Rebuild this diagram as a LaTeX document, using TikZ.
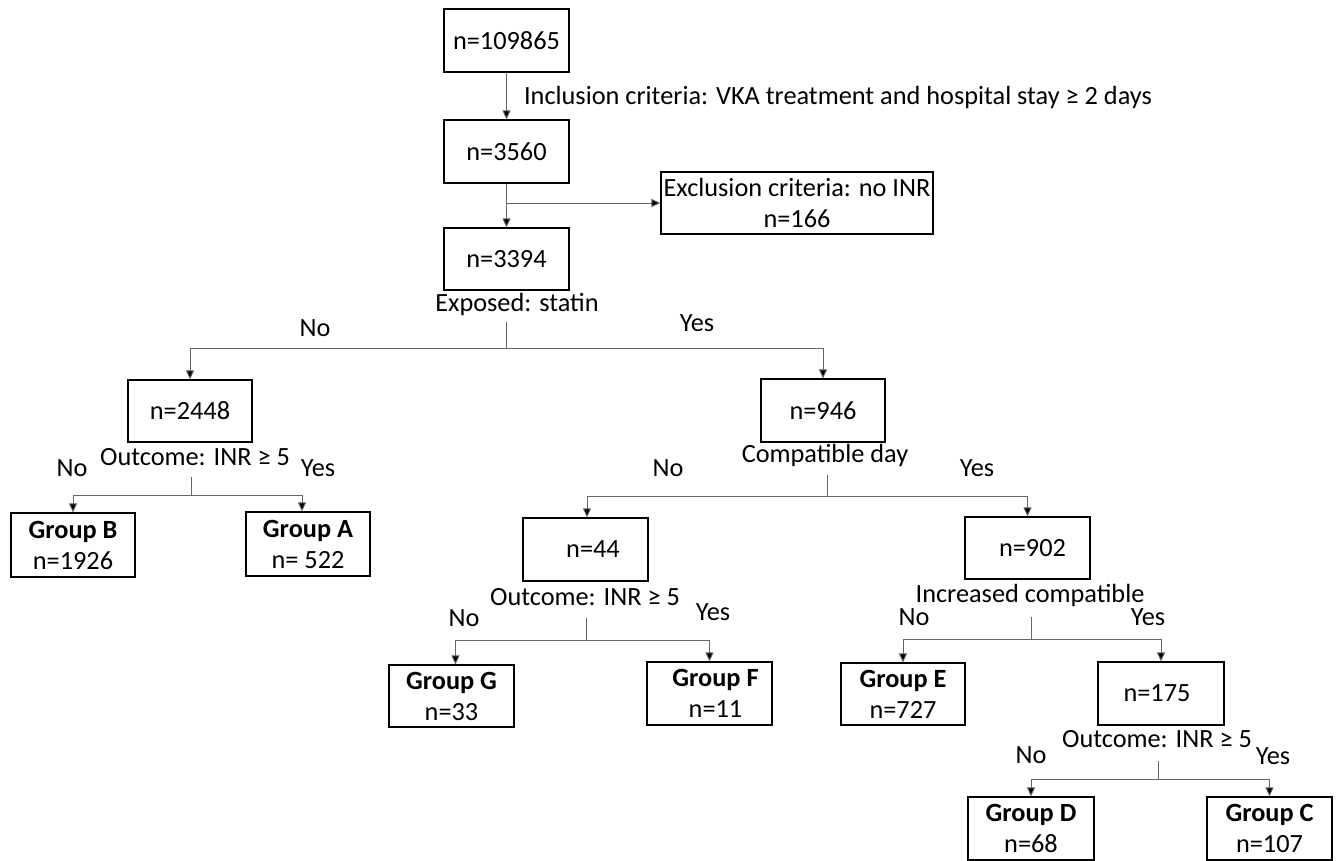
\documentclass[tikz,border=0pt]{standalone}
\usepackage{fontspec}
\setmainfont{Carlito}
\usetikzlibrary{arrows.meta}
\begin{document}
\begin{tikzpicture}[x=1pt,y=-1pt,
 box/.style={draw=black,line width=1.2pt,minimum width=125pt,minimum height=63pt,inner sep=0pt,align=center,font=\fontsize{26.3}{31}\selectfont},
 lbl/.style={inner sep=0pt,font=\fontsize{26.3}{31}\selectfont},
 conn/.style={draw=black!60,line width=0.9pt},
 arr/.style={conn,-{Triangle[length=9pt,width=8pt,fill=black]}}]
\useasboundingbox (0,0) rectangle (1341,861);
% boxes
\node[box] (n0) at (506.5,40.5) {n=109865};
\node[box] (n1) at (506.5,151.5) {n=3560};
\node[box,minimum width=272pt,minimum height=62pt] (ex) at (797,203) {Exclusion criteria: no INR\\n=166};
\node[box,minimum height=62pt] (n2) at (506.5,259) {n=3394};
\node[box,minimum width=124pt,minimum height=62pt] (n3) at (190,411) {n=2448};
\node[box,minimum width=124pt] (n4) at (823,410.5) {n=946};
\node[box,minimum width=124pt,minimum height=64pt] (gB) at (73,545) {\textbf{Group B}\\n=1926};
\node[box,minimum width=124pt,minimum height=64pt] (gA) at (308,544) {\textbf{Group A}\\n= 522};
\node[box] (n5) at (585.5,549.5) {\hspace*{15pt}n=44};
\node[box,minimum height=62pt] (n6) at (1027.5,548) {\hspace*{10pt}n=902};
\node[box,minimum height=62pt] (gG) at (451.5,696) {\textbf{Group G}\\n=33};
\node[box] (gF) at (709.5,693.5) {\hspace*{12pt}\textbf{Group F}\\\hspace*{12pt}n=11};
\node[box,minimum width=124pt,minimum height=62pt] (gE) at (903,694) {\textbf{Group E}\\n=727};
\node[box,minimum width=126pt] (n7) at (1161,693.5) {\hspace*{-8pt}n=175};
\node[box,minimum width=126pt] (gD) at (1031,828.5) {\textbf{Group D}\\n=68};
\node[box] (gC) at (1269.5,828.5) {\textbf{Group C}\\n=107};
% labels
\node[lbl] (tInc) at (838,97) {Inclusion criteria: VKA treatment and hospital stay ≥ 2 days};
\node[lbl] (tExp) at (517,304) {Exposed: statin};
\node[lbl] (tNo1) at (315,328) {No};
\node[lbl] (tYes1) at (697,323) {Yes};
\node[lbl] (tOut1) at (195,457) {Outcome: INR ≥ 5};
\node[lbl] (tNo2) at (72,468) {No};
\node[lbl] (tYes2) at (318,468) {Yes};
\node[lbl] (tComp) at (825,455) {Compatible day};
\node[lbl] (tNo3) at (668,468) {No};
\node[lbl] (tYes3) at (977,468) {Yes};
\node[lbl] (tOut2) at (585,597) {Outcome: INR ≥ 5};
\node[lbl] (tNo4) at (464,618) {No};
\node[lbl] (tYes4) at (713,612) {Yes};
\node[lbl] (tInc2) at (1030,595) {Increased compatible};
\node[lbl] (tNo5) at (914,617) {No};
\node[lbl] (tYes5) at (1148,617) {Yes};
\node[lbl] (tOut3) at (1157,739) {Outcome: INR ≥ 5};
\node[lbl] (tNo6) at (1031,755) {No};
\node[lbl] (tYes6) at (1273,756) {Yes};
% connectors
\draw[arr] (n0) -- (n1);
\draw[arr] (n1) -- (n2);
\coordinate (b1) at (506.5,203);
\draw[arr] (b1) -- (b1 -| ex.west);
\coordinate (s2) at (506.5,322);
\coordinate (j2) at (506.5,348);
\draw[conn] (s2) -- (j2);
\draw[arr] (j2) -| (n3.north);
\draw[arr] (j2) -| (n4.north);
\coordinate (s3) at (191,477);
\coordinate (j3) at (191,495);
\draw[conn] (s3) -- (j3);
\draw[arr] (j3) -| (gB.north);
\draw[arr] (j3) -| ([xshift=-6pt]gA.north);
\coordinate (s4) at (827,475);
\coordinate (j4) at (827,496);
\draw[conn] (s4) -- (j4);
\draw[arr] (j4) -| ([xshift=1.5pt]n5.north);
\draw[arr] (j4) -| (n6.north);
\coordinate (s5) at (586,618);
\coordinate (j5) at (586,640);
\draw[conn] (s5) -- (j5);
\draw[arr] (j5) -| ([xshift=4pt]gG.north);
\draw[arr] (j5) -| (gF.north);
\coordinate (s6) at (1031,617);
\coordinate (j6) at (1031,639);
\draw[conn] (s6) -- (j6);
\draw[arr] (j6) -| (gE.north);
\draw[arr] (j6) -| (n7.north);
\coordinate (s7) at (1158,761);
\coordinate (j7) at (1158,779);
\draw[conn] (s7) -- (j7);
\draw[arr] (j7) -| (gD.north);
\draw[arr] (j7) -| (gC.north);
\end{tikzpicture}
\end{document}
